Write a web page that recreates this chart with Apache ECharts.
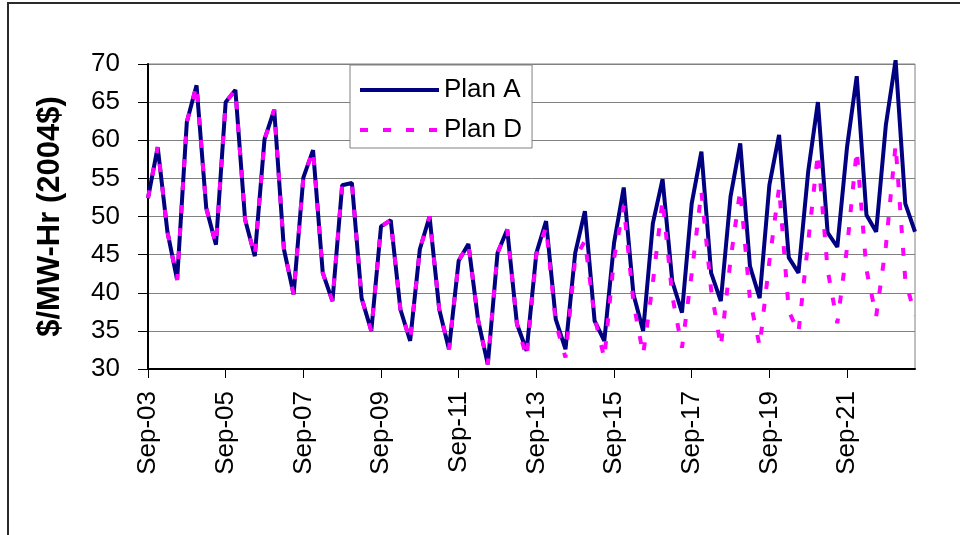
<!DOCTYPE html>
<html>
<head>
<meta charset="utf-8">
<script src="https://cdn.jsdelivr.net/npm/echarts@6/dist/echarts.min.js"></script>
<style>
  html, body { margin: 0; padding: 0; background: #fff; }
  #chart { width: 960px; height: 535px; }
</style>
</head>
<body>
<div id="chart"></div>
<script>
// Quarterly periods, Sep-03 through Jun-23
const quarters = [
  'Sep-03','Dec-03','Mar-04','Jun-04','Sep-04','Dec-04','Mar-05','Jun-05',
  'Sep-05','Dec-05','Mar-06','Jun-06','Sep-06','Dec-06','Mar-07','Jun-07',
  'Sep-07','Dec-07','Mar-08','Jun-08','Sep-08','Dec-08','Mar-09','Jun-09',
  'Sep-09','Dec-09','Mar-10','Jun-10','Sep-10','Dec-10','Mar-11','Jun-11',
  'Sep-11','Dec-11','Mar-12','Jun-12','Sep-12','Dec-12','Mar-13','Jun-13',
  'Sep-13','Dec-13','Mar-14','Jun-14','Sep-14','Dec-14','Mar-15','Jun-15',
  'Sep-15','Dec-15','Mar-16','Jun-16','Sep-16','Dec-16','Mar-17','Jun-17',
  'Sep-17','Dec-17','Mar-18','Jun-18','Sep-18','Dec-18','Mar-19','Jun-19',
  'Sep-19','Dec-19','Mar-20','Jun-20','Sep-20','Dec-20','Mar-21','Jun-21',
  'Sep-21','Dec-21','Mar-22','Jun-22','Sep-22','Dec-22','Mar-23','Jun-23'
];

// Price, $/MW-Hr (2004$)
const planA = [
  52.4, 59.1, 48.0, 41.7, 62.4, 67.2, 51.1, 46.3,
  65.0, 66.6, 49.6, 44.8, 60.1, 64.0, 45.7, 39.8,
  55.1, 58.7, 42.6, 38.9, 54.1, 54.4, 39.3, 35.0,
  48.7, 49.5, 37.8, 33.7, 45.7, 50.0, 37.8, 32.6,
  44.2, 46.4, 36.4, 30.6, 45.2, 48.3, 35.9, 32.4,
  45.2, 49.4, 36.5, 32.6, 45.2, 50.7, 36.3, 33.7,
  46.5, 53.8, 39.8, 35.0, 49.1, 54.9, 41.5, 37.4,
  51.7, 58.5, 42.6, 38.9, 52.6, 59.6, 43.5, 39.3,
  54.1, 60.7, 44.6, 42.6, 55.9, 65.0, 47.9, 46.0,
  59.1, 68.4, 50.2, 48.0, 62.0, 70.5, 51.7, 48.0
];

const planD = [
  52.4, 59.1, 48.0, 41.7, 62.4, 67.2, 51.1, 46.3,
  65.0, 66.6, 49.6, 44.8, 60.1, 64.0, 45.7, 39.8,
  55.1, 58.7, 42.6, 38.9, 54.1, 54.4, 39.3, 35.0,
  48.7, 49.5, 37.8, 33.7, 45.7, 50.0, 37.8, 32.6,
  44.2, 46.4, 36.4, 30.6, 45.2, 48.3, 35.9, 31.5,
  45.0, 48.6, 36.0, 31.5, 44.5, 46.8, 36.8, 31.4,
  44.5, 51.4, 38.7, 31.9, 41.3, 52.2, 39.6, 32.8,
  42.5, 53.3, 40.4, 32.9, 44.3, 53.5, 39.1, 33.0,
  44.1, 53.8, 37.6, 34.8, 46.7, 58.3, 43.0, 36.0,
  45.9, 58.7, 43.0, 36.9, 46.1, 59.4, 41.7, 37.0
];

const yMin = 30, yMax = 70, yStep = 5;
const FONT = '"Liberation Sans", Arial, sans-serif';
const NAVY = '#000080', MAGENTA = '#ff00ff';
const DASH = [8, 15];

const chart = echarts.init(document.getElementById('chart'), null, { renderer: 'canvas' });

chart.setOption({
  animation: false,
  backgroundColor: '#fff',
  textStyle: { fontFamily: FONT },
  graphic: [{
    type: 'rect',
    silent: true,
    z: -10,
    shape: { x: 8, y: 3, width: 1000, height: 1000 },
    style: { fill: 'none', stroke: '#2a2a2a', lineWidth: 2 }
  }],
  grid: {
    left: 148, right: 45, top: 64, bottom: 166,
    show: true, borderColor: '#808080', borderWidth: 1, backgroundColor: 'transparent'
  },
  legend: {
    orient: 'vertical',
    left: 350, top: 65,
    padding: [10, 10, 3, 8],
    itemWidth: 79, itemHeight: 14, itemGap: 10,
    backgroundColor: '#fff',
    borderColor: '#808080', borderWidth: 1, borderRadius: 0,
    textStyle: { fontSize: 26, color: '#000', lineHeight: 30, fontFamily: FONT },
    data: [
      { name: 'Plan A', itemStyle: { opacity: 0 },
        lineStyle: { color: NAVY, width: 4, type: 'solid' } },
      { name: 'Plan D', itemStyle: { opacity: 0 },
        lineStyle: { color: MAGENTA, width: 4, type: DASH } }
    ]
  },
  xAxis: {
    type: 'category',
    data: quarters,
    boundaryGap: false,
    axisLine: { show: true, onZero: false, lineStyle: { color: '#000', width: 2 } },
    axisTick: { show: true, interval: 7, length: 9, lineStyle: { color: '#000', width: 1 } },
    axisLabel: {
      interval: 7, rotate: 90, margin: 22,
      fontSize: 26, color: '#000', fontFamily: FONT
    },
    splitLine: { show: false }
  },
  yAxis: {
    type: 'value',
    min: yMin, max: yMax, interval: yStep,
    name: '$/MW-Hr (2004$)',
    nameLocation: 'middle',
    nameRotate: 90,
    nameGap: 82,
    nameTextStyle: { fontSize: 31, fontWeight: 'bold', color: '#000', fontFamily: FONT },
    axisLine: { show: true, lineStyle: { color: '#000', width: 2 } },
    axisTick: { show: true, length: 10, lineStyle: { color: '#000', width: 1 } },
    axisLabel: { margin: 28, fontSize: 26, color: '#000', fontFamily: FONT },
    splitLine: { show: true, lineStyle: { color: '#808080', width: 1 } }
  },
  series: [
    {
      name: 'Plan A', type: 'line', data: planA,
      symbol: 'none', showSymbol: false, clip: false, z: 2,
      itemStyle: { color: NAVY },
      lineStyle: { color: NAVY, width: 4 }
    },
    {
      name: 'Plan D', type: 'line', data: planD,
      symbol: 'none', showSymbol: false, clip: false, z: 3,
      itemStyle: { color: MAGENTA },
      lineStyle: { color: MAGENTA, width: 4, type: DASH, cap: 'butt' }
    }
  ]
});
</script>
</body>
</html>
